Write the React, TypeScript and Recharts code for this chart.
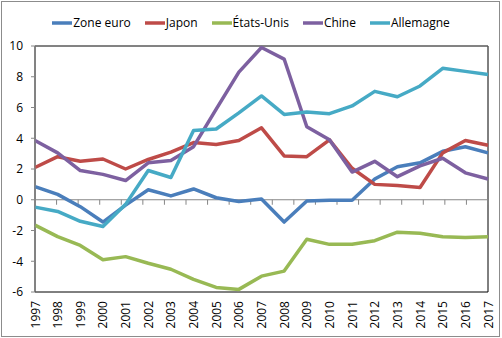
import React from 'react';
import { LineChart, Line, XAxis, YAxis, ReferenceLine, ReferenceArea, Legend } from 'recharts';

const years = ['1997','1998','1999','2000','2001','2002','2003','2004','2005','2006','2007','2008','2009','2010','2011','2012','2013','2014','2015','2016','2017'];
const zoneEuro = [0.85,0.35,-0.45,-1.45,-0.35,0.65,0.25,0.7,0.13,-0.12,0.05,-1.45,-0.08,-0.03,-0.03,1.35,2.15,2.4,3.15,3.45,3.05];
const japon = [2.1,2.8,2.5,2.65,2.0,2.62,3.1,3.72,3.6,3.85,4.68,2.85,2.8,3.9,2.05,1.0,0.92,0.8,3.05,3.85,3.55];
const etatsUnis = [-1.65,-2.4,-2.97,-3.9,-3.7,-4.13,-4.52,-5.18,-5.7,-5.83,-4.97,-4.64,-2.57,-2.9,-2.9,-2.66,-2.11,-2.18,-2.4,-2.46,-2.4];
const chine = [3.85,3.05,1.9,1.65,1.25,2.4,2.55,3.45,5.9,8.3,9.9,9.15,4.75,3.9,1.8,2.5,1.5,2.2,2.7,1.75,1.35];
const allemagne = [-0.48,-0.76,-1.4,-1.74,-0.3,1.9,1.45,4.5,4.6,5.65,6.75,5.55,5.7,5.6,6.1,7.05,6.7,7.4,8.55,8.35,8.15];
const yTicks = [-6,-4,-2,0,2,4,6,8,10];

const seriesDefs = [
  { key: 'zoneEuro', name: 'Zone euro', color: '#4A7EBB' },
  { key: 'japon', name: 'Japon', color: '#BE4B48' },
  { key: 'etatsUnis', name: 'États-Unis', color: '#98B954' },
  { key: 'chine', name: 'Chine', color: '#7D60A0' },
  { key: 'allemagne', name: 'Allemagne', color: '#46AAC5' },
];

const data = years.map((y, i) => ({
  year: y,
  zoneEuro: zoneEuro[i],
  japon: japon[i],
  etatsUnis: etatsUnis[i],
  chine: chine[i],
  allemagne: allemagne[i],
}));

const FONT = '"Open Sans", sans-serif';

const XTick = (props: any) => {
  const { x, y, payload } = props;
  const ty = y + 9;
  return (
    <text
      x={x}
      y={ty}
      transform={`rotate(-90 ${x} ${ty})`}
      textAnchor="end"
      dominantBaseline="central"
      fontSize={12}
      fontFamily={FONT}
      fill="#000"
    >
      {payload.value}
    </text>
  );
};

const ZeroLine = (props: any) => {
  const { x1, y1, x2 } = props;
  const n = years.length;
  const band = (x2 - x1) / n;
  const ticks = [];
  for (let k = 0; k <= n; k++) {
    const tx = x1 + k * band;
    ticks.push(<line key={k} x1={tx} x2={tx} y1={y1} y2={y1 + 5} stroke="#868686" strokeWidth={1} />);
  }
  return (
    <g>
      <line x1={x1} x2={x2} y1={y1} y2={y1} stroke="#868686" strokeWidth={1} />
      {ticks}
    </g>
  );
};

const LegendContent = () => (
  <div style={{ display: 'flex', justifyContent: 'center', alignItems: 'center', height: 18, fontFamily: FONT, fontSize: 12, color: '#000' }}>
    {seriesDefs.map((s, i) => (
      <div key={s.key} style={{ display: 'flex', alignItems: 'center', marginLeft: i === 0 ? 0 : 14 }}>
        <svg width={20} height={6} style={{ display: 'block' }}>
          <line x1={0} x2={20} y1={3} y2={3} stroke={s.color} strokeWidth={3.5} />
        </svg>
        <span style={{ marginLeft: 1, lineHeight: '18px', whiteSpace: 'nowrap' }}>{s.name}</span>
      </div>
    ))}
  </div>
);

export default function App() {
  return (
    <div style={{ position: 'absolute', left: 0, top: 0, width: 502, height: 338, background: '#fff', fontFamily: FONT }}>
      <div style={{ position: 'absolute', left: 1, top: 1, width: 499, height: 336, boxSizing: 'border-box', border: '1px solid #8c8c8c' }} />
      <div style={{ position: 'absolute', left: 0, top: 0 }}>
        <LineChart width={502} height={338} data={data} margin={{ top: 46, right: 14, left: 0, bottom: 0 }}>
          <ReferenceArea y1={-6} y2={10} fill="none" stroke="#000" strokeWidth={1} ifOverflow="visible" />
          <ReferenceLine y={10} stroke="#868686" strokeWidth={1} />
          <XAxis
            dataKey="year"
            height={46}
            axisLine={false}
            tickLine={false}
            tickSize={0}
            tickMargin={0}
            interval={0}
            tick={<XTick />}
          />
          <YAxis
            width={35}
            domain={[-6, 10]}
            ticks={yTicks}
            interval={0}
            axisLine={{ stroke: '#868686' }}
            tickLine={{ stroke: '#868686' }}
            tickSize={4}
            tickMargin={8}
            tick={{ fill: '#000', fontSize: 12, fontFamily: FONT }}
          />
          <ReferenceLine y={0} shape={<ZeroLine />} />
          <Legend
            layout="horizontal"
            verticalAlign="middle"
            align="center"
            content={<LegendContent />}
            wrapperStyle={{ top: 14, left: 0, width: 502, height: 18 }}
          />
          {seriesDefs.map((s) => (
            <Line
              key={s.key}
              type="linear"
              dataKey={s.key}
              name={s.name}
              stroke={s.color}
              strokeWidth={3.5}
              strokeLinejoin="round"
              dot={false}
              activeDot={false}
              isAnimationActive={false}
            />
          ))}
        </LineChart>
      </div>
    </div>
  );
}
